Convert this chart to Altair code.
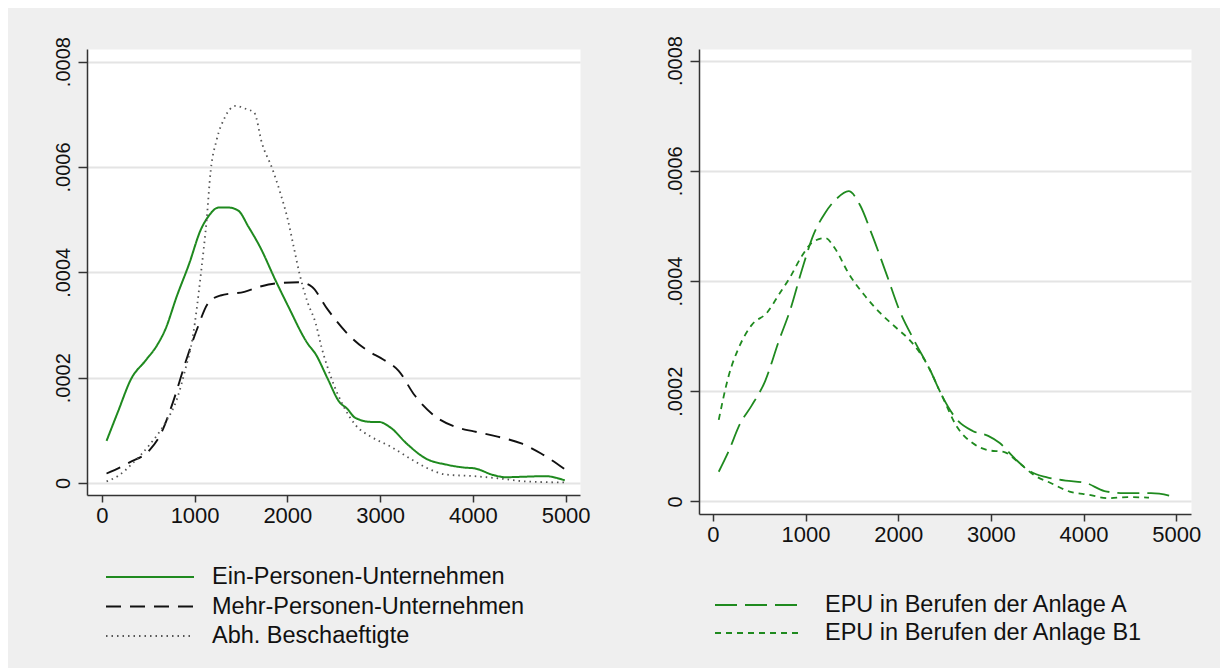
import altair as alt
import pandas as pd

# ---------------- data ----------------
ein_x = [51, 171, 320, 469, 597, 683, 811, 939, 1067, 1152, 1259, 1365, 1472, 1579, 1706, 1877, 2005,
         2218, 2304, 2432, 2560, 2645, 2730, 2901, 2986, 3114, 3285, 3498, 3712, 3925, 4010, 4224,
         4352, 4565, 4778, 4991]
ein_y = [0.80, 1.34, 1.99, 2.32, 2.62, 2.91, 3.56, 4.15, 4.81, 5.07, 5.23, 5.23, 5.17, 4.87, 4.48, 3.83,
         3.37, 2.65, 2.45, 1.99, 1.54, 1.41, 1.24, 1.16, 1.16, 1.05, 0.75, 0.46, 0.35, 0.29, 0.28, 0.15,
         0.11, 0.12, 0.13, 0.05]

mehr_x = [51, 299, 512, 640, 768, 896, 1024, 1152, 1280, 1536, 1706, 1877, 2133, 2261, 2432, 2645, 2858,
          3029, 3200, 3370, 3583, 3839, 4010, 4266, 4522, 4735, 4991]
mehr_y = [0.18, 0.39, 0.62, 0.95, 1.54, 2.26, 2.91, 3.43, 3.56, 3.63, 3.73, 3.79, 3.81, 3.73, 3.30, 2.84,
          2.52, 2.35, 2.13, 1.67, 1.28, 1.05, 0.98, 0.88, 0.75, 0.56, 0.26]

abh_x = [51, 171, 341, 512, 683, 811, 896, 981, 1067, 1130, 1173, 1237, 1323, 1442, 1557, 1643, 1728,
         1835, 1920, 2005, 2069, 2133, 2218, 2304, 2368, 2474, 2602, 2730, 2901, 3114, 3327, 3498, 3712,
         4010, 4266, 4565, 4991]
abh_y = [0.03, 0.13, 0.39, 0.72, 1.14, 1.60, 2.13, 2.78, 3.96, 5.00, 5.92, 6.51, 6.93, 7.16, 7.10, 7.03,
         6.44, 5.98, 5.53, 5.00, 4.48, 3.96, 3.43, 3.04, 2.58, 1.99, 1.47, 1.11, 0.88, 0.69, 0.46, 0.29,
         0.16, 0.13, 0.09, 0.03, 0.01]

anl_a_x = [63, 167, 293, 418, 565, 711, 837, 962, 1088, 1213, 1339, 1464, 1590, 1715, 1883, 2008, 2176,
           2343, 2469, 2636, 2803, 2971, 3096, 3264, 3431, 3598, 3807, 4017, 4226, 4435, 4728, 5000]
anl_a_y = [0.54, 0.90, 1.41, 1.74, 2.19, 2.91, 3.49, 4.21, 4.85, 5.24, 5.50, 5.63, 5.37, 4.85, 4.08, 3.49,
           2.91, 2.39, 1.93, 1.48, 1.28, 1.19, 1.06, 0.77, 0.54, 0.44, 0.38, 0.34, 0.19, 0.15, 0.15, 0.08]

anl_b_x = [63, 167, 293, 418, 586, 711, 837, 962, 1088, 1213, 1318, 1464, 1632, 1799, 1966, 2134, 2301,
           2469, 2636, 2803, 2971, 3138, 3305, 3473, 3640, 3849, 4059, 4268, 4477, 4707]
anl_b_y = [1.48, 2.26, 2.84, 3.20, 3.43, 3.75, 4.08, 4.46, 4.72, 4.78, 4.59, 4.14, 3.75, 3.43, 3.17, 2.91,
           2.52, 1.93, 1.35, 1.06, 0.93, 0.90, 0.70, 0.47, 0.34, 0.18, 0.12, 0.06, 0.08, 0.07]

left_names = ["Ein-Personen-Unternehmen", "Mehr-Personen-Unternehmen", "Abh. Beschaeftigte"]
right_names = ["EPU in Berufen der Anlage A", "EPU in Berufen der Anlage B1"]

x_ticks = [0, 1000, 2000, 3000, 4000, 5000]
y_ticks = [0, 0.0002, 0.0004, 0.0006, 0.0008]


def table(names, xs, ys):
    rows = []
    for name, xv, yv in zip(names, xs, ys):
        for i, (a, b) in enumerate(zip(xv, yv)):
            rows.append({"series": name, "x": a, "y": b * 1e-4, "idx": i})
    return pd.DataFrame(rows)


df_left = table(left_names, [ein_x, mehr_x, abh_x], [ein_y, mehr_y, abh_y])
df_right = table(right_names, [anl_a_x, anl_b_x], [anl_a_y, anl_b_y])

FONT = "Liberation Sans"
GREEN = "#1f8a1f"
AXIS_COLOR = "#333333"

x_axis = alt.Axis(values=x_ticks, format="d", grid=False, title=None, domainColor=AXIS_COLOR,
                  domainWidth=1.5, tickColor=AXIS_COLOR, tickWidth=1.5, tickSize=7,
                  labelFont=FONT, labelFontSize=22, labelColor="#111111", labelPadding=3)
y_axis = alt.Axis(values=y_ticks, grid=True, gridColor="#e4e4e4", gridWidth=2, title=None,
                  labelExpr="datum.value == 0 ? '0' : substring(format(datum.value, '.4f'), 1)",
                  labelAngle=270, labelAlign="center", labelBaseline="bottom",
                  domainColor=AXIS_COLOR, domainWidth=1.5, tickColor=AXIS_COLOR, tickWidth=1.5,
                  tickSize=9, labelFont=FONT, labelFontSize=20, labelColor="#111111", labelPadding=5)


def legend(lx, ly, offset, rowpad):
    return alt.Legend(title=None, orient="none", legendX=lx, legendY=ly, direction="vertical",
                      symbolType="M-4,0H4", symbolSize=484, symbolStrokeWidth=1.8,
                      labelFont=FONT, labelFontSize=23.5, labelColor="#111111", labelLimit=600,
                      labelOffset=offset, rowPadding=rowpad, padding=0)


leg_left = legend(51, 516, 50, 5.5)
left = alt.Chart(df_left).mark_line(interpolate="monotone").encode(
    x=alt.X("x:Q", scale=alt.Scale(domain=[-160, 5155], nice=False, zero=False), axis=x_axis),
    y=alt.Y("y:Q", scale=alt.Scale(domain=[-0.0000228, 0.000824], nice=False, zero=False), axis=y_axis),
    color=alt.Color("series:N", sort=left_names,
                    scale=alt.Scale(domain=left_names, range=[GREEN, "#111111", "#555555"]),
                    legend=leg_left),
    strokeDash=alt.StrokeDash("series:N", sort=left_names,
                              scale=alt.Scale(domain=left_names, range=[[1, 0], [15, 9], [1.5, 4]]),
                              legend=leg_left),
    strokeWidth=alt.StrokeWidth("series:N",
                                scale=alt.Scale(domain=left_names, range=[2, 1.8, 1.5]),
                                legend=None),
    order="idx:Q",
).properties(width=493, height=446)

leg_right = legend(48, 544, 54, 4)
right = alt.Chart(df_right).mark_line(interpolate="monotone", strokeWidth=1.8).encode(
    x=alt.X("x:Q", scale=alt.Scale(domain=[-150, 5160], nice=False, zero=False), axis=x_axis),
    y=alt.Y("y:Q", scale=alt.Scale(domain=[-0.0000227, 0.000821], nice=False, zero=False), axis=y_axis),
    color=alt.Color("series:N", sort=right_names,
                    scale=alt.Scale(domain=right_names, range=[GREEN, GREEN]),
                    legend=leg_right),
    strokeDash=alt.StrokeDash("series:N", sort=right_names,
                              scale=alt.Scale(domain=right_names, range=[[22, 8], [6, 5]]),
                              legend=leg_right),
    order="idx:Q",
).properties(width=492, height=465)

chart = alt.hconcat(left, right, spacing=73).resolve_scale(
    color="independent", strokeDash="independent", x="independent", y="independent"
).resolve_legend(color="independent", strokeDash="independent").properties(
    background="#efefef",
    padding={"left": 44, "top": 27, "right": 18, "bottom": 19},
).configure_view(fill="white", stroke="transparent")

chart.save("out.html", embed_options={"renderer": "svg", "actions": False})
